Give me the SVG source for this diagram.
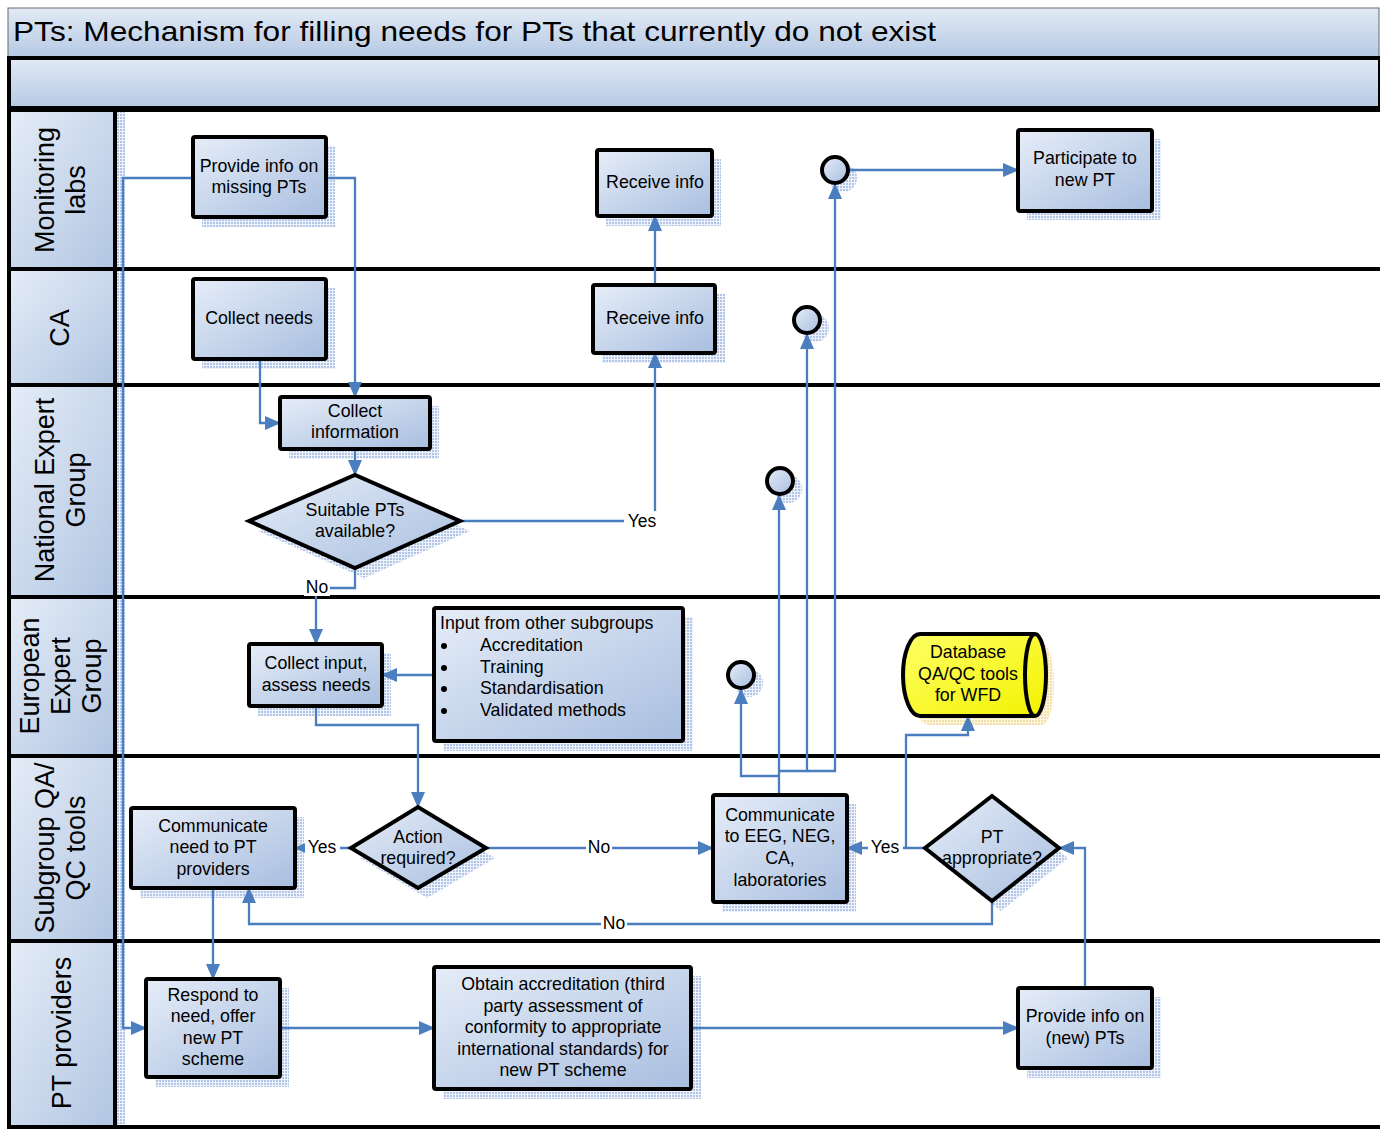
<svg xmlns="http://www.w3.org/2000/svg" width="1380" height="1130" viewBox="0 0 1380 1130">
  <defs>
    <linearGradient id="barFill" x1="0" y1="0" x2="0" y2="1">
      <stop offset="0" stop-color="#e2eaf5"/>
      <stop offset="1" stop-color="#b5c9e4"/>
    </linearGradient>
    <linearGradient id="cellFill" x1="0" y1="0" x2="1" y2="1">
      <stop offset="0" stop-color="#e4ecf7"/>
      <stop offset="1" stop-color="#b2c6e2"/>
    </linearGradient>
    <linearGradient id="nodeFill" x1="0" y1="0" x2="1" y2="1">
      <stop offset="0" stop-color="#e6edf8"/>
      <stop offset="1" stop-color="#a8bedf"/>
    </linearGradient>
    <linearGradient id="dbFill" x1="0" y1="0" x2="1" y2="1">
      <stop offset="0" stop-color="#ffff66"/>
      <stop offset="1" stop-color="#f2f200"/>
    </linearGradient>
    <pattern id="hatch" width="3" height="3" patternUnits="userSpaceOnUse">
      <rect width="3" height="3" fill="#eef2fa"/>
      <rect width="2" height="2" fill="#b3c5e6"/>
    </pattern>
    <pattern id="hatchY" width="3" height="3" patternUnits="userSpaceOnUse">
      <rect width="3" height="3" fill="#fdf6e2"/>
      <rect width="2" height="2" fill="#f3e0a8"/>
    </pattern>
    <marker id="arr" viewBox="0 0 16 14" refX="15" refY="7" markerWidth="16" markerHeight="14" markerUnits="userSpaceOnUse" orient="auto">
      <path d="M0,0 L16,7 L0,14 Z" fill="#4a7ebf"/>
    </marker>
  </defs>
  <style>
    .node { fill: url(#nodeFill); stroke: #000; stroke-width: 4; }
    .shadow { fill: url(#hatch); }
    .cell { fill: url(#cellFill); }
    .lane { stroke: #000; stroke-width: 4; fill: none; }
    .t { font-family: "Liberation Sans", Arial, sans-serif; font-size: 17.8px; fill: #000; text-anchor: middle; }
    .tl { font-family: "Liberation Sans", Arial, sans-serif; font-size: 17.8px; fill: #000; }
    .lbl { font-family: "Liberation Sans", Arial, sans-serif; font-size: 27px; fill: #000; text-anchor: middle; }
    .yn { font-family: "Liberation Sans", Arial, sans-serif; font-size: 17.5px; fill: #000; text-anchor: middle; }
    .conn path { fill: none; stroke: #4a7ebf; stroke-width: 2.3; }
  </style>

  <rect width="1380" height="1130" fill="#fff"/>

  <!-- title bar and header band -->
  <g id="title">
    <rect x="8" y="8" width="1371" height="49" fill="url(#barFill)" stroke="#6b6b6b" stroke-width="1"/>
    <text x="13" y="41" font-family="Liberation Sans, Arial, sans-serif" font-size="28" textLength="923" lengthAdjust="spacingAndGlyphs">PTs: Mechanism for filling needs for PTs that currently do not exist</text>
  </g>
  <rect x="9" y="58" width="1371" height="50" fill="url(#barFill)" stroke="#000" stroke-width="4"/>

  <!-- lane header cells -->
  <g id="lane-headers">
    <rect class="shadow" x="117" y="112" width="8" height="1014"/>
    <rect class="cell" x="11" y="112" width="102" height="156"/>
    <rect class="cell" x="11" y="271" width="102" height="113"/>
    <rect class="cell" x="11" y="387" width="102" height="209"/>
    <rect class="cell" x="11" y="599" width="102" height="156"/>
    <rect class="cell" x="11" y="758" width="102" height="182"/>
    <rect class="cell" x="11" y="943" width="102" height="183"/>
    <text class="lbl" transform="translate(60,190) rotate(-90)"><tspan x="0" y="-6">Monitoring</tspan><tspan x="0" y="25">labs</tspan></text>
    <text class="lbl" transform="translate(60,328) rotate(-90)"><tspan x="0" y="9">CA</tspan></text>
    <text class="lbl" transform="translate(60,490) rotate(-90)"><tspan x="0" y="-6">National Expert</tspan><tspan x="0" y="25">Group</tspan></text>
    <text class="lbl" transform="translate(60,676) rotate(-90)"><tspan x="0" y="-21">European</tspan><tspan x="0" y="10">Expert</tspan><tspan x="0" y="41">Group</tspan></text>
    <text class="lbl" transform="translate(60,848) rotate(-90)"><tspan x="0" y="-6">Subgroup QA/</tspan><tspan x="0" y="25">QC tools</tspan></text>
    <text class="lbl" transform="translate(60,1033) rotate(-90)"><tspan x="0" y="11">PT providers</tspan></text>
  </g>

  <!-- lane borders -->
  <g id="lanes" class="lane">
    <path d="M9,110 H1380 M9,269 H1380 M9,385 H1380 M9,597 H1380 M9,756 H1380 M9,941 H1380 M9,1127 H1380"/>
    <path d="M9,56 V1129 M115,110 V1127"/>
  </g>

  <!-- node shadows -->
  <g id="shadows">
    <rect class="shadow" x="202" y="146" width="133" height="81"/>
    <rect class="shadow" x="606" y="159" width="115" height="67"/>
    <rect class="shadow" x="1027" y="139" width="134" height="81"/>
    <rect class="shadow" x="202" y="288" width="133" height="81"/>
    <rect class="shadow" x="602" y="294" width="123" height="69"/>
    <rect class="shadow" x="289" y="406" width="150" height="53"/>
    <path class="shadow" d="M258,531 L364,485 L470,531 L364,578 Z"/>
    <rect class="shadow" x="258" y="653" width="133" height="63"/>
    <rect class="shadow" x="443" y="617" width="250" height="134"/>
    <path d="M929,643 H1042 A12,41 0 0 1 1042,725 H929 A17,41 0 0 1 929,643 Z" fill="url(#hatchY)"/>
    <rect class="shadow" x="140" y="817" width="164" height="81"/>
    <path class="shadow" d="M360,858 L427,817 L495,858 L427,898 Z"/>
    <rect class="shadow" x="722" y="804" width="134" height="108"/>
    <path class="shadow" d="M934,858 L1001,806 L1068,858 L1001,911 Z"/>
    <rect class="shadow" x="155" y="988" width="134" height="99"/>
    <rect class="shadow" x="443" y="976" width="258" height="123"/>
    <rect class="shadow" x="1027" y="997" width="134" height="81"/>
    <circle class="shadow" cx="843" cy="178" r="14"/>
    <circle class="shadow" cx="815" cy="328" r="14"/>
    <circle class="shadow" cx="788" cy="489" r="14"/>
    <circle class="shadow" cx="749" cy="683" r="14"/>
  </g>

  <!-- connectors -->
  <g id="connectors" class="conn">
    <path d="M193,178 H123 V1028 H146" marker-end="url(#arr)"/>
    <path d="M326,178 H355 V397" marker-end="url(#arr)"/>
    <path d="M260,359 V423 H280" marker-end="url(#arr)"/>
    <path d="M355,449 V475" marker-end="url(#arr)"/>
    <path d="M460,521 H655 V353" marker-end="url(#arr)"/>
    <path d="M655,285 V216" marker-end="url(#arr)"/>
    <path d="M355,568 V588 H316 V644" marker-end="url(#arr)"/>
    <path d="M434,675 H382" marker-end="url(#arr)"/>
    <path d="M316,706 V725 H418 V807" marker-end="url(#arr)"/>
    <path d="M351,848 H295" marker-end="url(#arr)"/>
    <path d="M486,848 H713" marker-end="url(#arr)"/>
    <path d="M779,795 V495" marker-end="url(#arr)"/>
    <path d="M779,776 H741 V689" marker-end="url(#arr)"/>
    <path d="M779,771 H807 V334" marker-end="url(#arr)"/>
    <path d="M807,771 H835 V184" marker-end="url(#arr)"/>
    <path d="M849,170 H1018" marker-end="url(#arr)"/>
    <path d="M925,848 H847" marker-end="url(#arr)"/>
    <path d="M906,848 V735 H968 V716" marker-end="url(#arr)"/>
    <path d="M992,901 V924 H249 V888" marker-end="url(#arr)"/>
    <path d="M213,888 V979" marker-end="url(#arr)"/>
    <path d="M280,1028 H434" marker-end="url(#arr)"/>
    <path d="M691,1028 H1018" marker-end="url(#arr)"/>
    <path d="M1085,988 V848 H1059" marker-end="url(#arr)"/>
  </g>

  <!-- connector labels -->
  <g id="connector-labels">
    <rect x="624" y="511" width="36" height="20" fill="#fff"/>
    <text class="yn" x="642" y="527">Yes</text>
    <rect x="304" y="578" width="26" height="18" fill="#fff"/>
    <text class="yn" x="317" y="593">No</text>
    <rect x="305" y="838" width="35" height="19" fill="#fff"/>
    <text class="yn" x="322" y="853">Yes</text>
    <rect x="586" y="838" width="26" height="19" fill="#fff"/>
    <text class="yn" x="599" y="853">No</text>
    <rect x="868" y="838" width="35" height="19" fill="#fff"/>
    <text class="yn" x="885" y="853">Yes</text>
    <rect x="601" y="914" width="26" height="19" fill="#fff"/>
    <text class="yn" x="614" y="929">No</text>
  </g>

  <!-- Monitoring labs -->
  <g id="n-provide-missing">
    <rect class="node" x="193" y="137" width="133" height="80" rx="2"/>
    <text class="t"><tspan x="259" y="172">Provide info on</tspan><tspan x="259" y="193">missing PTs</tspan></text>
  </g>
  <g id="n-receive-labs">
    <rect class="node" x="597" y="150" width="115" height="66" rx="2"/>
    <text class="t" x="655" y="188">Receive info</text>
  </g>
  <g id="c-labs">
    <circle class="node" cx="835" cy="170" r="13"/>
  </g>
  <g id="n-participate">
    <rect class="node" x="1018" y="130" width="134" height="81" rx="2"/>
    <text class="t"><tspan x="1085" y="164">Participate to</tspan><tspan x="1085" y="186">new PT</tspan></text>
  </g>

  <!-- CA -->
  <g id="n-collect-needs">
    <rect class="node" x="193" y="279" width="133" height="80" rx="2"/>
    <text class="t" x="259" y="324">Collect needs</text>
  </g>
  <g id="n-receive-ca">
    <rect class="node" x="593" y="285" width="122" height="68" rx="2"/>
    <text class="t" x="655" y="324">Receive info</text>
  </g>
  <g id="c-ca">
    <circle class="node" cx="807" cy="320" r="13"/>
  </g>

  <!-- National Expert Group -->
  <g id="n-collect-info">
    <rect class="node" x="280" y="397" width="150" height="52" rx="2"/>
    <text class="t"><tspan x="355" y="417">Collect</tspan><tspan x="355" y="438">information</tspan></text>
  </g>
  <g id="d-suitable">
    <path class="node" d="M249,521 L355,475 L460,521 L355,568 Z"/>
    <text class="t"><tspan x="355" y="516">Suitable PTs</tspan><tspan x="355" y="537">available?</tspan></text>
  </g>
  <g id="c-neg">
    <circle class="node" cx="780" cy="481" r="13"/>
  </g>

  <!-- European Expert Group -->
  <g id="n-collect-input">
    <rect class="node" x="249" y="644" width="133" height="62" rx="2"/>
    <text class="t"><tspan x="316" y="669">Collect input,</tspan><tspan x="316" y="691">assess needs</tspan></text>
  </g>
  <g id="n-input-subgroups">
    <rect class="node" x="434" y="608" width="249" height="133" rx="2"/>
    <text class="tl"><tspan x="440" y="629">Input from other subgroups</tspan><tspan x="480" y="651">Accreditation</tspan><tspan x="480" y="673">Training</tspan><tspan x="480" y="694">Standardisation</tspan><tspan x="480" y="716">Validated methods</tspan></text>
    <circle cx="444" cy="646" r="3"/>
    <circle cx="444" cy="668" r="3"/>
    <circle cx="444" cy="689" r="3"/>
    <circle cx="444" cy="711" r="3"/>
  </g>
  <g id="c-eeg">
    <circle class="node" cx="741" cy="675" r="13"/>
  </g>
  <g id="n-database">
    <path d="M920,634 H1035 A11,41 0 0 1 1035,716 H920 A17,41 0 0 1 920,634 Z" fill="url(#dbFill)" stroke="#000" stroke-width="4"/>
    <path d="M1035,634 A10,41 0 0 0 1035,716" fill="none" stroke="#000" stroke-width="4"/>
    <text class="t"><tspan x="968" y="658">Database</tspan><tspan x="968" y="680">QA/QC tools</tspan><tspan x="968" y="701">for WFD</tspan></text>
  </g>

  <!-- Subgroup QA/QC tools -->
  <g id="n-communicate-need">
    <rect class="node" x="131" y="808" width="164" height="80" rx="2"/>
    <text class="t"><tspan x="213" y="832">Communicate</tspan><tspan x="213" y="853">need to PT</tspan><tspan x="213" y="875">providers</tspan></text>
  </g>
  <g id="d-action">
    <path class="node" d="M351,848 L418,807 L486,848 L418,888 Z"/>
    <text class="t"><tspan x="418" y="843">Action</tspan><tspan x="418" y="864">required?</tspan></text>
  </g>
  <g id="n-communicate-eeg">
    <rect class="node" x="713" y="795" width="134" height="107" rx="2"/>
    <text class="t"><tspan x="780" y="821">Communicate</tspan><tspan x="780" y="842">to EEG, NEG,</tspan><tspan x="780" y="864">CA,</tspan><tspan x="780" y="886">laboratories</tspan></text>
  </g>
  <g id="d-appropriate">
    <path class="node" d="M925,848 L992,796 L1059,848 L992,901 Z"/>
    <text class="t"><tspan x="992" y="843">PT</tspan><tspan x="992" y="864">appropriate?</tspan></text>
  </g>

  <!-- PT providers -->
  <g id="n-respond">
    <rect class="node" x="146" y="979" width="134" height="98" rx="2"/>
    <text class="t"><tspan x="213" y="1001">Respond to</tspan><tspan x="213" y="1022">need, offer</tspan><tspan x="213" y="1044">new PT</tspan><tspan x="213" y="1065">scheme</tspan></text>
  </g>
  <g id="n-accreditation">
    <rect class="node" x="434" y="967" width="257" height="122" rx="2"/>
    <text class="t"><tspan x="563" y="990">Obtain accreditation (third</tspan><tspan x="563" y="1012">party assessment of</tspan><tspan x="563" y="1033">conformity to appropriate</tspan><tspan x="563" y="1055">international standards) for</tspan><tspan x="563" y="1076">new PT scheme</tspan></text>
  </g>
  <g id="n-provide-new">
    <rect class="node" x="1018" y="988" width="134" height="80" rx="2"/>
    <text class="t"><tspan x="1085" y="1022">Provide info on</tspan><tspan x="1085" y="1044">(new) PTs</tspan></text>
  </g>
</svg>
